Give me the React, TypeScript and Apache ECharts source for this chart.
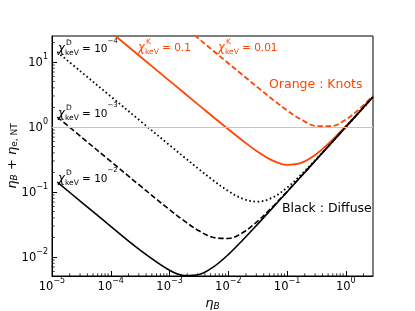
import React, { useEffect, useRef } from 'react';
import * as echarts from 'echarts';

const FONT = 'DejaVu Sans';
const ORANGE = '#ff4500';

const xMin = 1e-5;
const xMax = 2.9;
const yMin = 0.0051;
const yMax = 25.1;

const etaB = [1.23e-5, 3.16e-5, 1e-4, 3.16e-4, 1e-3, 1.78e-3, 3.16e-3, 5.62e-3, 0.01, 0.0178, 0.0316, 0.0562, 0.1, 0.178, 0.316, 0.562, 1.0, 1.78, 2.9];
const diffuse1e2 = [0.142, 0.07, 0.0296, 0.01277, 0.00625, 0.00519, 0.00538, 0.00706, 0.0109, 0.0184, 0.032, 0.0565, 0.1002, 0.178, 0.316, 0.562, 1.0, 1.78, 2.9];
const diffuse1e3 = [1.421, 0.7, 0.2952, 0.1248, 0.0535, 0.0359, 0.0253, 0.02, 0.0193, 0.0238, 0.0356, 0.0588, 0.1017, 0.1789, 0.3169, 0.5628, 1.0003, 1.78, 2.9];
const diffuse1e4 = [14.21, 7.0, 2.951, 1.245, 0.526, 0.3426, 0.2245, 0.1493, 0.1033, 0.0784, 0.071, 0.0818, 0.1166, 0.1886, 0.3232, 0.5668, 1.003, 1.782, 2.9];
const knots01 = [138.8, 68.4, 28.84, 12.16, 5.13, 3.333, 2.166, 1.41, 0.922, 0.61, 0.416, 0.306, 0.262, 0.283, 0.385, 0.607, 1.029, 1.8, 2.91];
const knots001 = [1457, 718, 302.7, 127.6, 53.8, 34.96, 22.7, 14.75, 9.58, 6.24, 4.068, 2.677, 1.802, 1.283, 1.034, 1.028, 1.303, 1.97, 3.04];

const xMajorExps = [-5, -4, -3, -2, -1, 0];
const yMajorExps = [-2, -1, 0, 1];

const pairs = (ys: number[]) => etaB.map((x, i) => [x, ys[i]]);

const minorX: number[] = [];
xMajorExps.forEach((e) => {
  for (let k = 2; k <= 9; k++) {
    const v = k * Math.pow(10, e);
    if (v > xMin && v < xMax) minorX.push(v);
  }
});
const minorY: number[] = [];
[-3, ...yMajorExps].forEach((e) => {
  for (let k = 2; k <= 9; k++) {
    const v = k * Math.pow(10, e);
    if (v > yMin && v < yMax) minorY.push(v);
  }
});

const tickFmt = (v: number) => {
  const e = Math.round(Math.log10(v));
  return `{b|10}{s|${e < 0 ? '\u2212' : ''}${Math.abs(e)}}`;
};

const tickRich = {
  b: { fontSize: 11.5, fontFamily: FONT, color: '#000', lineHeight: 19 },
  s: { fontSize: 8, fontFamily: FONT, color: '#000', verticalAlign: 'top', lineHeight: 8 },
};

function chiLabel(x: number, y: number, sup: string, color: string, valueRich: string) {
  return {
    type: 'group',
    x,
    y,
    children: [
      { type: 'text', style: { text: '\u03c7', x: 0, y: 0, fontSize: 11.5, fontStyle: 'italic', fontFamily: FONT, fill: color, verticalAlign: 'middle', align: 'left' } },
      { type: 'text', style: { text: sup, x: 8, y: -5.5, fontSize: 7.5, fontFamily: FONT, fill: color, verticalAlign: 'middle', align: 'left' } },
      { type: 'text', style: { text: 'keV', x: 7, y: 4.5, fontSize: 7.5, fontFamily: FONT, fill: color, verticalAlign: 'middle', align: 'left' } },
      {
        type: 'text',
        style: {
          text: valueRich,
          x: 24,
          y: 0,
          fill: color,
          verticalAlign: 'middle',
          align: 'left',
          rich: {
            n: { fontSize: 10.5, fontFamily: FONT, fill: color, lineHeight: 22 },
            s: { fontSize: 7, fontFamily: FONT, fill: color, verticalAlign: 'top', lineHeight: 8 },
          },
        },
      },
    ],
  };
}

export default function App() {
  const ref = useRef<HTMLDivElement>(null);
  useEffect(() => {
    if (!ref.current) return;
    const chart = echarts.init(ref.current, null, { renderer: 'svg' });
    const lineBase = { type: 'line', symbol: 'none', smooth: 0.35, clip: true, silent: true };
    const option: any = {
      animation: false,
      textStyle: { fontFamily: FONT },
      grid: { left: 52, right: 42, top: 36, bottom: 35, containLabel: false, outerBoundsMode: 'none', show: true, borderColor: '#000', borderWidth: 1, backgroundColor: 'transparent' },
      xAxis: {
        type: 'log',
        logBase: 10,
        min: xMin,
        max: xMax,
        name: '{i|\u03b7}{s|B}',
        nameLocation: 'middle',
        nameGap: 17,
        nameTextStyle: {
          rich: {
            i: { fontSize: 13, fontStyle: 'italic', fontFamily: FONT, color: '#000', lineHeight: 16 },
            s: { fontSize: 9, fontStyle: 'italic', fontFamily: FONT, color: '#000', verticalAlign: 'bottom', lineHeight: 9 },
          },
        },
        axisLine: { show: true, lineStyle: { color: '#000', width: 1 } },
        axisTick: { show: true, inside: true, length: 5, lineStyle: { color: '#000', width: 1 } },
        axisLabel: { formatter: tickFmt, rich: tickRich, margin: 9.5, verticalAlign: 'middle', showMinLabel: true, showMaxLabel: false },
        splitLine: { show: false },
        minorTick: { show: false },
      },
      yAxis: {
        type: 'log',
        logBase: 10,
        min: yMin,
        max: yMax,
        name: '{i|\u03b7}{s|B}{n| + }{i|\u03b7}{r|e, NT}',
        nameLocation: 'middle',
        nameGap: 34,
        nameMoveOverlap: false,
        nameTextStyle: {
          rich: {
            i: { fontSize: 13, fontStyle: 'italic', fontFamily: FONT, color: '#000', lineHeight: 14 },
            n: { fontSize: 13, fontFamily: FONT, color: '#000', lineHeight: 14 },
            s: { fontSize: 9, fontStyle: 'italic', fontFamily: FONT, color: '#000', verticalAlign: 'bottom', lineHeight: 8 },
            r: { fontSize: 9, fontFamily: FONT, color: '#000', verticalAlign: 'bottom', lineHeight: 8 },
          },
        },
        axisLine: { show: true, lineStyle: { color: '#000', width: 1 } },
        axisTick: { show: true, inside: true, length: 5, lineStyle: { color: '#000', width: 1 } },
        axisLabel: { formatter: tickFmt, rich: tickRich, margin: 4, showMinLabel: false, showMaxLabel: false },
        splitLine: { show: false },
        minorTick: { show: false },
      },
      series: [
        {
          ...lineBase,
          name: 'knots 0.1',
          data: pairs(knots01),
          lineStyle: { color: ORANGE, width: 1.8, type: 'solid' },
          markLine: {
            silent: true,
            symbol: 'none',
            label: { show: false },
            lineStyle: { color: '#c4c4c4', width: 1, type: 'solid' },
            data: [{ yAxis: 1 }],
          },
          z: 2,
        },
        { ...lineBase, name: 'knots 0.01', data: pairs(knots001), lineStyle: { color: ORANGE, width: 1.8, type: [5.5, 2.6] }, z: 2 },
        { ...lineBase, name: 'diffuse 1e-4', data: pairs(diffuse1e4), lineStyle: { color: '#000', width: 1.8, type: [1.6, 2.6] }, z: 3 },
        { ...lineBase, name: 'diffuse 1e-3', data: pairs(diffuse1e3), lineStyle: { color: '#000', width: 1.6, type: [5.5, 2.6] }, z: 3 },
        { ...lineBase, name: 'diffuse 1e-2', data: pairs(diffuse1e2), lineStyle: { color: '#000', width: 1.6, type: 'solid' }, z: 3 },
        {
          type: 'custom',
          silent: true,
          clip: false,
          z: 5,
          data: minorX.map((v) => [v, 1]),
          encode: { x: 0, y: 1 },
          renderItem: (params: any, api: any) => {
            const cs = params.coordSys;
            const px = api.coord([api.value(0), 1])[0];
            const by = cs.y + cs.height;
            return { type: 'line', shape: { x1: px, y1: by, x2: px, y2: by - 2.7 }, style: { stroke: '#000', lineWidth: 0.8 } };
          },
        },
        {
          type: 'custom',
          silent: true,
          clip: false,
          z: 5,
          data: minorY.map((v) => [1e-3, v]),
          encode: { x: 0, y: 1 },
          renderItem: (params: any, api: any) => {
            const cs = params.coordSys;
            const py = api.coord([1e-3, api.value(1)])[1];
            const lx = cs.x;
            return { type: 'line', shape: { x1: lx, y1: py, x2: lx + 2.7, y2: py }, style: { stroke: '#000', lineWidth: 0.8 } };
          },
        },
      ],
      graphic: [
        chiLabel(58, 48, 'D', '#000', '{n|= 10}{s|\u22124}'),
        chiLabel(58, 112.5, 'D', '#000', '{n|= 10}{s|\u22123}'),
        chiLabel(58, 177.5, 'D', '#000', '{n|= 10}{s|\u22122}'),
        chiLabel(138, 46.5, 'K', ORANGE, '{n|= 0.1}'),
        chiLabel(218, 46.5, 'K', ORANGE, '{n|= 0.01}'),
        { type: 'text', style: { text: 'Orange : Knots', x: 269, y: 83.5, fontSize: 12.5, fontFamily: FONT, fill: ORANGE, verticalAlign: 'middle', align: 'left' } },
        { type: 'text', style: { text: 'Black : Diffuse', x: 282, y: 207.5, fontSize: 12.5, fontFamily: FONT, fill: '#000', verticalAlign: 'middle', align: 'left' } },
      ],
    };
    chart.setOption(option);
    return () => chart.dispose();
  }, []);
  return <div ref={ref} style={{ position: 'fixed', left: 0, top: 0, width: 415, height: 311 }} />;
}
